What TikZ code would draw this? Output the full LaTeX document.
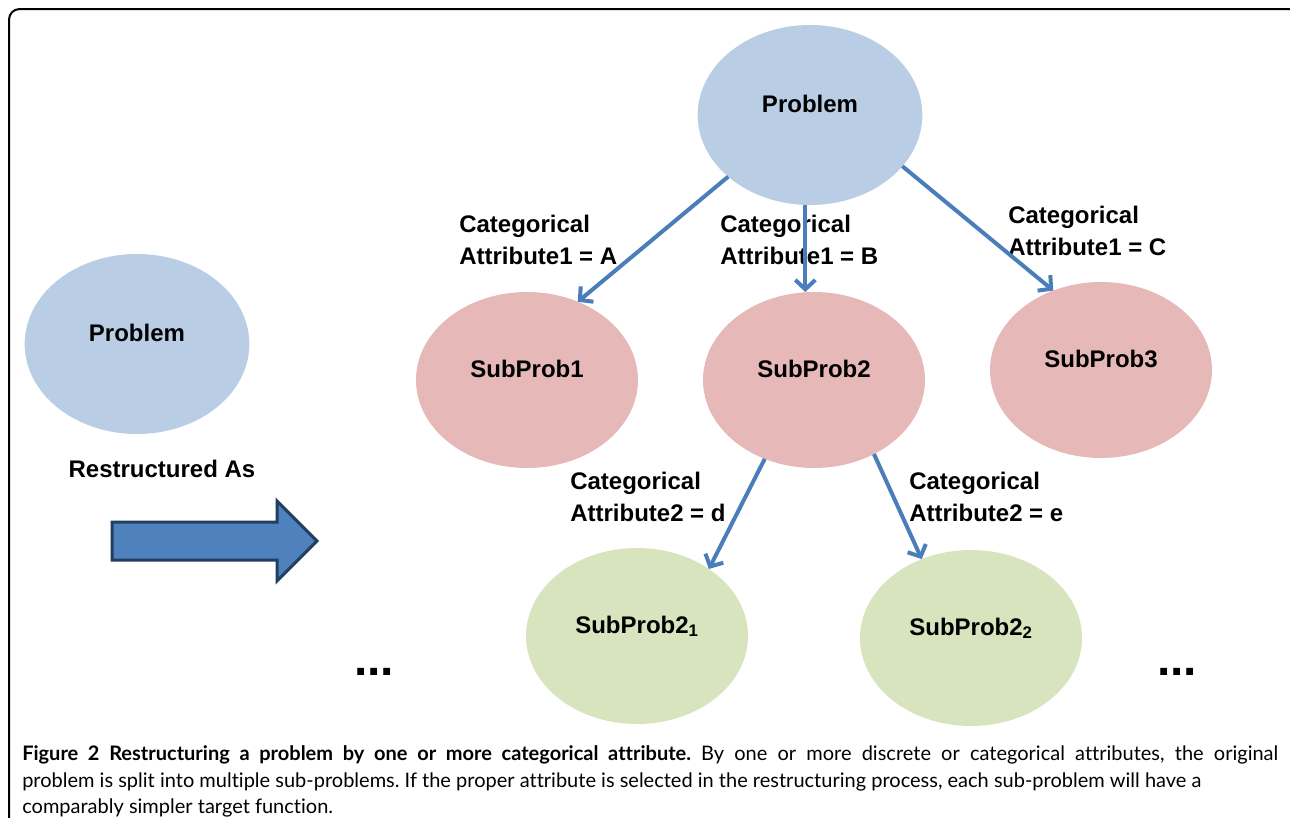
\documentclass[tikz,border=0pt]{standalone}
\usepackage{fontspec}
\setmainfont{Liberation Sans}
\newfontfamily\capfont[Ligatures=NoCommon]{Lato}
\usetikzlibrary{arrows.meta,shapes.geometric}
\definecolor{pblue}{HTML}{B9CDE5}
\definecolor{ppink}{HTML}{E6B9B8}
\definecolor{pgreen}{HTML}{D7E4BD}
\definecolor{arblue}{HTML}{4A7EBB}
\definecolor{bigfill}{HTML}{4F81BD}
\definecolor{bigline}{HTML}{213F60}
\tikzset{
  blob/.style={ellipse, inner sep=0pt, outer sep=0pt, text height=0pt, text depth=4.5pt,
    font=\bfseries\fontsize{18}{24}\selectfont},
  probnode/.style={blob, fill=pblue, minimum width=168.5pt, minimum height=135pt},
  subnode/.style={blob, fill=ppink, minimum width=166.5pt, minimum height=132pt},
  leafnode/.style={blob, fill=pgreen, minimum width=166.5pt, minimum height=132pt},
  conn/.style={draw=arblue, line width=3pt, -{Straight Barb[length=7pt,width=15pt]}},
  lab/.style={anchor=base west, inner sep=0pt, font=\bfseries\fontsize{18}{24}\selectfont},
  dots/.style={anchor=base west, inner sep=0pt, font=\bfseries\fontsize{36}{40}\selectfont},
  capline/.style={anchor=base west, inner sep=0pt, font=\capfont\frenchspacing\fontsize{15}{18}\selectfont},
}
\begin{document}
\begin{tikzpicture}[x=0.75pt, y=-0.75pt]
\useasboundingbox (0,0) rectangle (1290,818);
\begin{scope}
\clip (0,0) rectangle (1290,818);
\draw[line width=1.5pt, rounded corners=8pt] (9,9) rectangle (1299,840);
\end{scope}

\node[probnode] (p0) at (137,344) {Problem};
\node[lab, anchor=base] (rs) at (162,477) {Restructured As};
\draw[fill=bigfill, draw=bigline, line width=2.25pt, line join=miter]
  (112,522) -- (277,522) -- (277,501) -- (317,541) -- (277,581) -- (277,560) -- (112,560) -- cycle;

\node[probnode] (top) at (810,115) {Problem};
\node[subnode] (s1) at (527,380) {SubProb1};
\node[subnode] (s2) at (814,380) {SubProb2};
\node[subnode] (s3) at (1101,370) {SubProb3};
\node[leafnode] (s21) at (637,636) {SubProb2\textsubscript{1}};
\node[leafnode] (s22) at (971,638) {SubProb2\textsubscript{2}};

\node[lab] (la) at (459,232) {\begin{tabular}[t]{@{}l@{}}Categorical\\Attribute1 = A\end{tabular}};
\node[lab] (lb) at (720,232) {\begin{tabular}[t]{@{}l@{}}Categorical\\Attribute1 = B\end{tabular}};
\node[lab] (lc) at (1008,223) {\begin{tabular}[t]{@{}l@{}}Categorical\\Attribute1 = C\end{tabular}};
\node[lab] (ld) at (570,489) {\begin{tabular}[t]{@{}l@{}}Categorical\\Attribute2 = d\end{tabular}};
\node[lab] (le) at (909,489) {\begin{tabular}[t]{@{}l@{}}Categorical\\Attribute2 = e\end{tabular}};

\draw[conn] (top.217) -- (s1.57);
\draw[conn] (top.267) -- (top.267 |- s2.north);
\draw[conn] (top.331) -- (s3.121);
\draw[conn] (s2.238) -- (s21.43);
\draw[conn] (s2.309) -- (s22.122);

\node[dots] (d1) at (354,675) {...};
\node[dots] (d2) at (1157,675) {...};

\node[capline] (c1) at (22,760) {\makebox[942pt][s]{\bfseries Figure 2 Restructuring a problem by one or more categorical attribute.\mdseries{} By one or more discrete or categorical attributes, the original}};
\node[capline] (c2) at (22,787) {problem is split into multiple sub-problems. If the proper attribute is selected in the restructuring process, each sub-problem will have a};
\node[capline] (c3) at (22,813) {comparably simpler target function.};
\end{tikzpicture}
\end{document}
